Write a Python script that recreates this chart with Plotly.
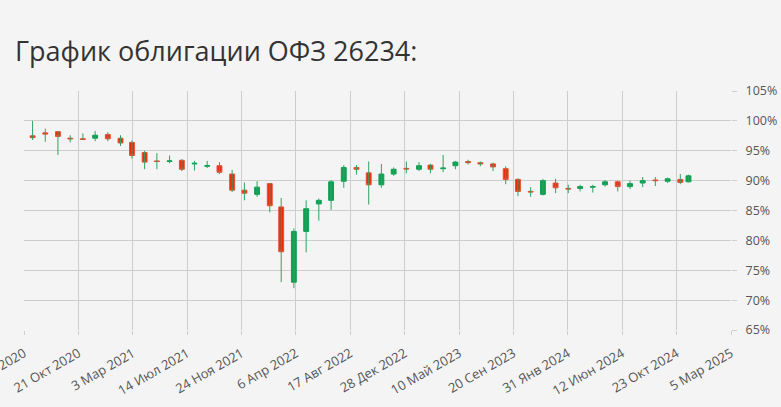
import plotly.graph_objects as go

# ── данные (месячные свечи, % от номинала) ────────────────────────────────────
dates = [
    "2020-07-01", "2020-08-01", "2020-09-01", "2020-10-01", "2020-11-01", "2020-12-01",
    "2021-01-01", "2021-02-01", "2021-03-01", "2021-04-01", "2021-05-01", "2021-06-01",
    "2021-07-01", "2021-08-01", "2021-09-01", "2021-10-01", "2021-11-01", "2021-12-01",
    "2022-01-01", "2022-02-01", "2022-03-01", "2022-04-01", "2022-05-01", "2022-06-01",
    "2022-07-01", "2022-08-01", "2022-09-01", "2022-10-01", "2022-11-01", "2022-12-01",
    "2023-01-01", "2023-02-01", "2023-03-01", "2023-04-01", "2023-05-01", "2023-06-01",
    "2023-07-01", "2023-08-01", "2023-09-01", "2023-10-01", "2023-11-01", "2023-12-01",
    "2024-01-01", "2024-02-01", "2024-03-01", "2024-04-01", "2024-05-01", "2024-06-01",
    "2024-07-01", "2024-08-01", "2024-09-01", "2024-10-01", "2024-11-01", "2024-11-21",
]
opens = [
    97.5, 98.0, 98.2, 97.1, 97.0, 97.1, 97.7, 97.1, 96.4, 94.7, 93.3, 93.2,
    93.4, 92.8, 92.4, 92.5, 91.1, 88.4, 87.7, 89.5, 85.6, 73.0, 81.5, 86.1,
    86.7, 89.9, 92.2, 91.3, 89.3, 91.1, 92.05, 91.9, 92.6, 92.0, 92.5, 93.2,
    93.0, 92.8, 92.0, 90.2, 88.2, 87.7, 89.6, 88.7, 88.7, 88.9, 89.3, 89.8,
    89.0, 89.6, 90.1, 89.9, 90.2, 89.8,
]
highs = [
    100.0, 98.7, 98.3, 97.6, 97.9, 98.3, 98.1, 97.6, 96.7, 95.0, 94.6, 94.2,
    93.6, 93.3, 93.3, 93.1, 91.8, 89.7, 89.9, 89.6, 87.1, 82.0, 86.7, 87.0,
    90.1, 92.6, 92.6, 93.2, 92.8, 92.2, 93.2, 93.1, 92.8, 94.3, 93.3, 93.5,
    93.2, 93.0, 92.4, 90.4, 88.9, 90.3, 90.3, 89.3, 89.3, 89.3, 90.1, 90.0,
    90.0, 90.6, 90.6, 90.5, 91.1, 91.0,
]
lows = [
    96.8, 96.5, 94.3, 96.4, 96.8, 96.6, 96.6, 95.8, 93.7, 91.9, 91.9, 92.9,
    91.6, 91.7, 92.1, 91.1, 88.1, 86.7, 87.3, 84.7, 73.0, 72.0, 78.0, 83.3,
    85.1, 88.8, 91.0, 86.0, 88.8, 90.8, 91.2, 91.6, 91.2, 91.4, 91.9, 92.7,
    92.4, 91.6, 89.4, 87.4, 87.3, 87.5, 87.9, 87.9, 88.2, 88.0, 89.0, 88.2,
    88.6, 88.9, 89.1, 89.6, 89.4, 89.7,
]
closes = [
    97.2, 97.8, 97.4, 97.0, 96.9, 97.6, 97.0, 96.3, 94.2, 93.1, 93.2, 93.3,
    91.9, 92.9, 92.5, 91.4, 88.4, 87.9, 88.9, 85.8, 78.1, 81.5, 85.3, 86.7,
    89.8, 92.2, 91.9, 89.3, 91.1, 91.9, 91.95, 92.5, 91.9, 92.1, 93.1, 93.0,
    92.8, 92.3, 90.2, 88.2, 88.1, 90.0, 88.8, 88.6, 89.0, 89.0, 89.8, 89.0,
    89.5, 90.0, 90.0, 90.3, 89.7, 90.8,
]

# подписи осей
tick_dates = [
    "2020-06-10", "2020-10-21", "2021-03-03", "2021-07-14", "2021-11-24",
    "2022-04-06", "2022-08-17", "2022-12-28", "2023-05-10", "2023-09-20",
    "2024-01-31", "2024-06-12", "2024-10-23", "2025-03-05",
]
tick_labels = [
    "10 Июн 2020", "21 Окт 2020", "3 Мар 2021", "14 Июл 2021", "24 Ноя 2021",
    "6 Апр 2022", "17 Авг 2022", "28 Дек 2022", "10 Май 2023", "20 Сен 2023",
    "31 Янв 2024", "12 Июн 2024", "23 Окт 2024", "5 Мар 2025",
]
y_ticks = [65, 70, 75, 80, 85, 90, 95, 100, 105]
y_labels = ["65%", "70%", "75%", "80%", "85%", "90%", "95%", "100%", "105%"]

BG    = "#f4f4f4"
GRID  = "#cdcdcd"
RED   = "#e82c0c"
GREEN = "#0fa053"
WICK  = "#2ea262"
TEXT  = "#555555"

# тела свечей без теней
body_top = [max(o, c) for o, c in zip(opens, closes)]
body_bot = [min(o, c) for o, c in zip(opens, closes)]

fig = go.Figure()

# тени (все зелёные)
fig.add_trace(go.Ohlc(
    x=dates, open=opens, high=highs, low=lows, close=closes,
    tickwidth=0,
    increasing=dict(line=dict(color=WICK, width=1)),
    decreasing=dict(line=dict(color=WICK, width=1)),
    hoverinfo="skip",
))

# тела
fig.add_trace(go.Candlestick(
    x=dates, open=opens, high=body_top, low=body_bot, close=closes,
    increasing=dict(line=dict(color=GREEN, width=1), fillcolor=GREEN),
    decreasing=dict(line=dict(color="#ef4c2c", width=1), fillcolor=RED),
    whiskerwidth=0,
))

fig.update_layout(
    width=781, height=407,
    margin=dict(l=24, r=50, t=91, b=77),
    paper_bgcolor=BG, plot_bgcolor=BG,
    showlegend=False,
    boxgap=0.15,
    font=dict(family="Open Sans, sans-serif", color=TEXT, size=12),
    title=dict(
        text="График облигации ОФЗ 26234:",
        x=15 / 781, xanchor="left", xref="container",
        y=1 - 52 / 407, yanchor="middle", yref="container",
        font=dict(size=27, color="#333333", family="Open Sans, sans-serif"),
    ),
)

fig.update_xaxes(
    type="date",
    range=["2020-06-10", "2025-03-05"],
    tickvals=tick_dates, ticktext=tick_labels,
    tickangle=-30,
    ticks="outside", ticklen=4, tickcolor=GRID,
    ticklabelstandoff=6,
    ticklabeloverflow="allow",
    automargin=False,
    showgrid=True, gridcolor=GRID, gridwidth=1,
    zeroline=False, showline=False,
    rangeslider_visible=False,
    tickfont=dict(size=13, color=TEXT),
)
fig.update_yaxes(
    range=[65, 105],
    side="right",
    tickvals=y_ticks, ticktext=y_labels,
    ticks="outside", ticklen=5, tickcolor=GRID,
    ticklabelstandoff=6,
    ticklabeloverflow="allow",
    automargin=False,
    showgrid=True, gridcolor=GRID, gridwidth=1,
    zeroline=False, showline=False,
    tickfont=dict(size=12.5, color=TEXT),
)

fig.write_html("out.html", config={"displayModeBar": False},
               post_script="document.body.style.margin='0';")
